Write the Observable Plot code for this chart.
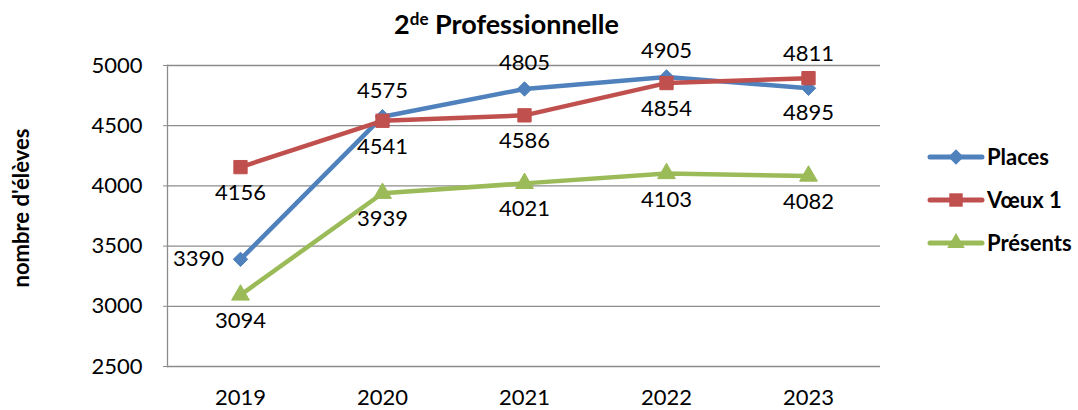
<!DOCTYPE html>
<html>
<head>
<meta charset="utf-8">
<script src="https://cdn.jsdelivr.net/npm/d3@7"></script>
<script src="https://cdn.jsdelivr.net/npm/@observablehq/plot@0.6"></script>
<style>
  body { margin: 0; background: #fff; font-family: Lato, "Open Sans", sans-serif; }
  #wrap { position: relative; width: 1078px; height: 410px; overflow: hidden; }
  #title { position: absolute; left: 0; width: 1013px; top: 7px; text-align: center; font-weight: bold; font-size: 27px; color: #000; }
  #title sup { font-size: 17px; vertical-align: 0; position: relative; top: -9px; }
  #ylab { position: absolute; left: 20px; top: 208px; transform: translate(-50%, -50%) rotate(-90deg); font-weight: bold; font-size: 22px; white-space: nowrap; color: #000; }
  #legend { position: absolute; left: 920px; top: 130px; }
</style>
</head>
<body>
<div id="wrap">
  <div id="title">2<sup>de</sup> Professionnelle</div>
  <div id="ylab">nombre d'élèves</div>
  <div id="chart"></div>
  <div id="legend"></div>
</div>
<script>
const years = ["2019", "2020", "2021", "2022", "2023"];
const places = [3390, 4575, 4805, 4905, 4811];
const voeux1 = [4156, 4541, 4586, 4854, 4895];
const presents = [3094, 3939, 4021, 4103, 4082];
const seriesNames = ["Places", "Vœux 1", "Présents"];
const seriesColors = ["#4F81BD", "#C0504D", "#9BBB59"];
const yTicks = [2500, 3000, 3500, 4000, 4500, 5000];

const rows = [];
[places, voeux1, presents].forEach((vals, s) => {
  vals.forEach((v, i) => rows.push({ series: seriesNames[s], year: years[i], value: v }));
});
const P = rows.filter(d => d.series === "Places");
const V = rows.filter(d => d.series === "Vœux 1");
const G = rows.filter(d => d.series === "Présents");

const fontSize = 22;
const txt = (data, opts) => Plot.text(data, { x: "year", y: "value", text: d => String(d.value), fontSize, fill: "#000", ...opts });

const chart = Plot.plot({
  width: 1078,
  height: 410,
  marginLeft: 167,
  marginRight: 198,
  marginTop: 65,
  marginBottom: 44,
  style: { fontFamily: "Lato, 'Open Sans', sans-serif", fontSize: "22px", color: "#000", background: "#fff" },
  x: { type: "point", domain: years, padding: 0.5, label: null },
  y: { domain: [2500, 5000], ticks: yTicks, label: null },
  color: { domain: seriesNames, range: seriesColors },
  marks: [
    Plot.gridY(yTicks, { stroke: "#8c8c8c", strokeOpacity: 1, strokeWidth: 1.3 }),
    Plot.axisY(yTicks, { tickSize: 4, tickPadding: 21, stroke: "#8c8c8c", fontSize: 22, tickFormat: d => String(d) }),
    Plot.axisX(years, { tickSize: 0, tickPadding: 23, fontSize: 22 }),
    Plot.frame({ anchor: "left", stroke: "#8c8c8c", strokeWidth: 1.3 }),
    Plot.lineY(rows, { x: "year", y: "value", z: "series", stroke: "series", strokeWidth: 4.5 }),
    Plot.dot(P, { x: "year", y: "value", symbol: "diamond2", fill: "#4F81BD", stroke: "#4F81BD", r: 6.5, strokeWidth: 1 }),
    Plot.dot(V, { x: "year", y: "value", symbol: "square", fill: "#C0504D", stroke: "#C0504D", r: 7.5, strokeWidth: 1 }),
    Plot.dot(G, { x: "year", y: "value", symbol: "triangle2", fill: "#9BBB59", stroke: "#9BBB59", r: 8.5, strokeWidth: 1 }),
    txt(P.filter(d => d.year === "2019"), { dx: -42, dy: 0 }),
    txt(P.filter(d => d.year !== "2019" && d.year !== "2023"), { dy: -26 }),
    txt(P.filter(d => d.year === "2023"), { dy: -34 }),
    txt(V.filter(d => d.year !== "2023"), { dy: 26 }),
    txt(V.filter(d => d.year === "2023"), { dy: 35 }),
    txt(G, { dy: 26 })
  ]
});
document.getElementById("chart").appendChild(chart);

// legend
const lg = d3.select("#legend").append("svg").attr("width", 158).attr("height", 140)
  .style("font-family", "Lato, 'Open Sans', sans-serif");
const symbols = [d3.symbolDiamond2, d3.symbolSquare, d3.symbolTriangle2];
const symSize = [150, 180, 220];
seriesNames.forEach((name, i) => {
  const y = 27 + i * 43;
  const g = lg.append("g");
  g.append("line").attr("x1", 10).attr("x2", 62).attr("y1", y).attr("y2", y)
    .attr("stroke", seriesColors[i]).attr("stroke-width", 5).attr("stroke-linecap", "round");
  g.append("path").attr("d", d3.symbol(symbols[i], symSize[i])()).attr("transform", `translate(36,${y})`)
    .attr("fill", seriesColors[i]);
  g.append("text").attr("x", 67).attr("y", y).attr("dy", "0.35em").attr("font-weight", "bold")
    .attr("font-size", 22).text(name);
});
</script>
</body>
</html>
